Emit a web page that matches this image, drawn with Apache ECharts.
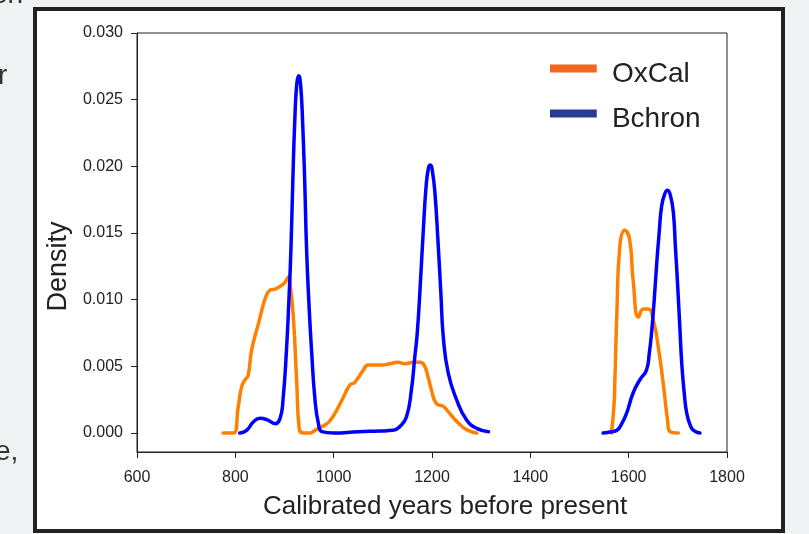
<!DOCTYPE html>
<html lang="en">
<head>
    <meta charset="UTF-8">
    <title>Density</title>
    <style>
        html, body { margin: 0; padding: 0; background: #f1f2f4; }
    </style>
</head>
<body>
<div id="chart-wrap" style="height: 534px;width: 809px;">
    <!-- chart -->
</div>
</body>
<script src="https://cdn.jsdelivr.net/npm/echarts@6/dist/echarts.min.js"></script>
<script>
    // x axis ticks and y axis labels
    var xTicks = [600, 800, 1000, 1200, 1400, 1600, 1800];
    var yTicks = [0, 0.005, 0.010, 0.015, 0.020, 0.025, 0.030];

    // OxCal, two pieces: [years, density]
    var oxcalA = [
        [775, 0], [796, 0], [806, 0.0020], [813, 0.0035], [820, 0.0040], [826, 0.0043],
        [833, 0.0062], [847, 0.0082], [860, 0.0100], [870, 0.0107], [881, 0.0108],
        [891, 0.0110], [901, 0.0113], [908, 0.0117], [912, 0.0110], [918, 0.0087],
        [925, 0.0037], [930, 0.0003], [938, 0], [952, 0], [962, 0.0002], [972, 0.0004],
        [982, 0.0006], [992, 0.0009], [1006, 0.0017], [1020, 0.0027], [1033, 0.0036],
        [1043, 0.0038], [1060, 0.0047], [1070, 0.0051], [1087, 0.0051], [1100, 0.0051],
        [1114, 0.0052], [1131, 0.0053], [1145, 0.0052], [1162, 0.0053], [1175, 0.0053],
        [1184, 0.0051], [1192, 0.0042], [1199, 0.0032], [1209, 0.0022], [1223, 0.0020],
        [1233, 0.0016], [1247, 0.0010], [1264, 0.0004], [1280, 0.0001], [1291, 0]
    ];
    var oxcalB = [
        [1565, 0], [1570, 0.0020], [1572, 0.0040], [1576, 0.0090], [1582, 0.0140],
        [1592, 0.0152], [1602, 0.0145], [1609, 0.0115], [1620, 0.0087], [1630, 0.0093],
        [1640, 0.0093], [1650, 0.0085], [1660, 0.0065], [1671, 0.0035], [1679, 0.0010],
        [1684, 0.0001], [1701, 0]
    ];

    // Bchron, two pieces
    var bchronA = [
        [809, 0], [823, 0.0002], [837, 0.00085], [850, 0.0011], [864, 0.0010], [881, 0.0007],
        [891, 0.0011], [897, 0.0025], [904, 0.0062], [909, 0.0100], [913, 0.0137],
        [917, 0.0190], [921, 0.0235], [925, 0.0262], [929, 0.0268], [933, 0.0260],
        [937, 0.0232], [941, 0.0190], [945, 0.0137], [950, 0.0095], [955, 0.0062],
        [962, 0.0025], [969, 0.0007], [976, 0.0001], [1000, 0], [1050, 0.0001],
        [1094, 0.00015], [1121, 0.0002], [1135, 0.0005], [1148, 0.0012], [1158, 0.0032],
        [1165, 0.0057], [1170, 0.0075], [1176, 0.0110], [1182, 0.0150], [1188, 0.0185],
        [1193, 0.0199], [1197, 0.0201], [1201, 0.0196], [1206, 0.0180], [1212, 0.0145],
        [1218, 0.0105], [1223, 0.0072], [1233, 0.0045], [1250, 0.0025], [1270, 0.0010],
        [1291, 0.00035], [1315, 0.0001]
    ];
    var bchronB = [
        [1548, 0], [1565, 0.0001], [1576, 0.0002], [1586, 0.0007], [1596, 0.0015],
        [1609, 0.0030], [1623, 0.0040], [1636, 0.0047], [1642, 0.0060], [1647, 0.0077],
        [1652, 0.0100], [1657, 0.0127], [1662, 0.0150], [1667, 0.0170], [1673, 0.0179],
        [1679, 0.0182], [1685, 0.0178], [1691, 0.0165], [1695, 0.0140], [1699, 0.0115],
        [1704, 0.0080], [1708, 0.0052], [1713, 0.0030], [1718, 0.0015], [1725, 0.0006],
        [1732, 0.0002], [1745, 0]
    ];

    var font = 'Liberation Sans, Arial, Helvetica, sans-serif';
    var ink = '#222';
    // legend bar sits a little above the middle of its label
    var legendIcon = 'path://M0,0H47V8H0Z M0,19H0.1V19.1H0Z';

    function curve(name, data, color) {
        return {
            name: name,
            type: 'line',
            data: data,
            showSymbol: false,
            smooth: 0.5,
            lineStyle: {color: color, width: 3.5, cap: 'round', join: 'round'},
            itemStyle: {color: color},
            animation: false
        };
    }

    var chart = echarts.init(document.getElementById('chart-wrap'));

    var option = {
        backgroundColor: '#f1f2f4',
        textStyle: {fontFamily: font},
        graphic: [
            // white card with dark border
            {type: 'rect', z: -10, silent: true,
                shape: {x: 35, y: 9, width: 748, height: 522},
                style: {fill: '#fff', stroke: '#222', lineWidth: 4}},
            // bits of page text cut off at the left
            {type: 'text', left: -8, top: -19, silent: true,
                style: {text: 'en', fill: '#333', font: '28px ' + font}},
            {type: 'text', left: -2, top: 62, silent: true,
                style: {text: 'r', fill: '#333', font: '28px ' + font}},
            {type: 'text', left: -5, top: 438, silent: true,
                style: {text: 'e,', fill: '#333', font: '28px ' + font}}
        ],
        grid: {
            left: 137, right: 82, top: 33, bottom: 82,
            show: true, borderColor: ink, borderWidth: 1, backgroundColor: 'transparent'
        },
        legend: {
            orient: 'vertical',
            left: 550, top: 60,
            itemWidth: 47, itemHeight: 19, itemGap: 17,
            padding: 0,
            textStyle: {fontSize: 28, color: ink, padding: [0, 0, 0, 10]},
            data: [
                {name: 'OxCal', icon: legendIcon, itemStyle: {color: '#f26722'}},
                {name: 'Bchron', icon: legendIcon, itemStyle: {color: '#263d98'}}
            ]
        },
        xAxis: {
            type: 'value',
            min: xTicks[0], max: xTicks[xTicks.length - 1], interval: 200,
            name: 'Calibrated years before present',
            nameLocation: 'middle', nameGap: 42,
            nameTextStyle: {fontSize: 26, color: ink, padding: [0, 0, 0, 26]},
            axisLine: {onZero: false, lineStyle: {color: ink, width: 1}},
            axisTick: {show: true, inside: false, length: 6, lineStyle: {color: ink}},
            axisLabel: {fontSize: 16, color: ink, margin: 18,
                formatter: function (v) { return String(v); }},
            splitLine: {show: false}
        },
        yAxis: {
            type: 'value',
            min: -0.001424, max: 0.030,
            name: 'Density',
            nameLocation: 'middle', nameGap: 65,
            nameTextStyle: {fontSize: 27, color: ink, padding: [0, 48, 0, 0]},
            axisLine: {show: true, lineStyle: {color: ink, width: 1}},
            axisTick: {show: true, inside: false, length: 6, lineStyle: {color: ink}, customValues: yTicks},
            axisLabel: {fontSize: 16, color: ink, margin: 14, customValues: yTicks,
                formatter: function (v) { return v.toFixed(3); }},
            splitLine: {show: false}
        },
        series: [
            curve('OxCal', oxcalA, '#ff8000'),
            curve('OxCal', oxcalB, '#ff8000'),
            curve('Bchron', bchronA, '#0000ff'),
            curve('Bchron', bchronB, '#0000ff')
        ]
    };

    chart.setOption(option);
</script>
</html>
